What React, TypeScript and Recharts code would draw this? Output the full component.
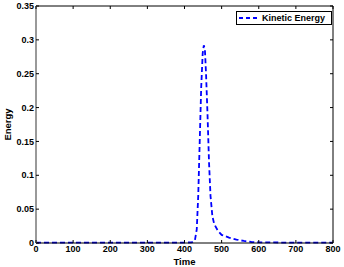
import React from "react";
import { LineChart, Line, XAxis, YAxis } from "recharts";

const times = [0, 100, 200, 300, 400, 420, 428, 433, 437, 441, 445, 449, 452, 455, 458, 462, 466, 470, 475, 480, 490, 500, 510, 520, 540, 560, 580, 600, 700, 800];
const energy = [0.0005, 0.0005, 0.0005, 0.0005, 0.0005, 0.001, 0.004, 0.02, 0.07, 0.15, 0.23, 0.28, 0.292, 0.285, 0.25, 0.19, 0.12, 0.07, 0.04, 0.028, 0.018, 0.012, 0.01, 0.008, 0.005, 0.003, 0.0015, 0.001, 0.0005, 0.0005];
const xTicks = [0, 100, 200, 300, 400, 500, 600, 700, 800];
const yTicks = [0, 0.05, 0.1, 0.15, 0.2, 0.25, 0.3, 0.35];
const seriesName = "Kinetic Energy";

const data = times.map((t, i) => ({ t, e: energy[i] }));

const FONT = "'Liberation Sans', Arial, Helvetica, sans-serif";
const TL = 3;

const BottomTick = (p: any) => (
  <g>
    <line x1={p.x} x2={p.x} y1={p.y - 3} y2={p.y - 3 - TL} stroke="#000" strokeWidth={1} />
    <text x={p.x} y={p.y} dy="0.71em" textAnchor="middle" fontSize={9} fontWeight="bold" fontFamily={FONT} fill="#000">
      {p.payload.value}
    </text>
  </g>
);
const TopTick = (p: any) => (
  <line x1={p.x} x2={p.x} y1={p.y} y2={p.y + TL} stroke="#000" strokeWidth={1} />
);
const LeftTick = (p: any) => (
  <g>
    <line x1={p.x + 2} x2={p.x + 2 + TL} y1={p.y} y2={p.y} stroke="#000" strokeWidth={1} />
    <text x={p.x} y={p.y} dy="0.355em" textAnchor="end" fontSize={9} fontWeight="bold" fontFamily={FONT} fill="#000">
      {p.payload.value}
    </text>
  </g>
);
const RightTick = (p: any) => (
  <line x1={p.x} x2={p.x - TL} y1={p.y} y2={p.y} stroke="#000" strokeWidth={1} />
);

const YLabel = (p: any) => {
  const vb = p.viewBox || { x: 0, y: 6, width: 36, height: 237 };
  const cx = vb.x + 8;
  const cy = vb.y + vb.height / 2;
  return (
    <text
      x={cx}
      y={cy}
      transform={`rotate(-90 ${cx} ${cy})`}
      textAnchor="middle"
      dy="0.355em"
      fontSize={9.5}
      fontWeight="bold"
      fontFamily={FONT}
      fill="#000"
    >
      Energy
    </text>
  );
};

const LegendBox = () => (
  <div
    style={{
      position: "absolute",
      left: 236,
      top: 11,
      width: 94,
      height: 12,
      border: "1px solid #000",
      background: "#fff",
      display: "flex",
      alignItems: "center",
      fontFamily: FONT,
      fontWeight: "bold",
      fontSize: 9,
      color: "#000",
      lineHeight: "12px",
    }}
  >
    <svg width={25} height={12} style={{ display: "block" }}>
      <line x1={2} x2={22} y1={6} y2={6} stroke="#0000ff" strokeWidth={1.8} strokeDasharray="4 3" />
    </svg>
    <span style={{ whiteSpace: "nowrap" }}>{seriesName}</span>
  </div>
);

export default function App() {
  return (
    <div style={{ position: "absolute", left: 0, top: 0, width: 344, height: 267, background: "#fff" }}>
      <LineChart width={344} height={267} data={data} margin={{ top: 5, right: 10, left: 0, bottom: 0 }}>
        <XAxis
          xAxisId="b"
          dataKey="t"
          type="number"
          domain={[0, 800]}
          ticks={xTicks}
          orientation="bottom"
          height={24}
          tickSize={0}
          tickMargin={3}
          tickLine={false}
          tick={BottomTick}
          interval={0}
          axisLine={{ stroke: "#000", strokeWidth: 1 }}
          label={{ value: "Time", position: "insideBottom", offset: 2, fontSize: 9.5, fontWeight: "bold", fontFamily: FONT, fill: "#000" }}
        />
        <XAxis
          xAxisId="t"
          dataKey="t"
          type="number"
          domain={[0, 800]}
          ticks={xTicks}
          orientation="top"
          height={1}
          tickSize={0}
          tickMargin={0}
          tickLine={false}
          tick={TopTick}
          interval={0}
          axisLine={{ stroke: "#000", strokeWidth: 1 }}
        />
        <YAxis
          yAxisId="l"
          type="number"
          domain={[0, 0.35]}
          ticks={yTicks}
          orientation="left"
          width={36}
          tickSize={0}
          tickMargin={2}
          tickLine={false}
          tick={LeftTick}
          interval={0}
          axisLine={{ stroke: "#999", strokeWidth: 2 }}
          label={<YLabel />}
        />
        <YAxis
          yAxisId="r"
          type="number"
          domain={[0, 0.35]}
          ticks={yTicks}
          orientation="right"
          width={1}
          tickSize={0}
          tickMargin={0}
          tickLine={false}
          tick={RightTick}
          interval={0}
          axisLine={{ stroke: "#000", strokeWidth: 1 }}
        />
        <Line
          xAxisId="t"
          yAxisId="r"
          dataKey="e"
          type="linear"
          stroke="none"
          dot={false}
          activeDot={false}
          isAnimationActive={false}
        />
        <Line
          xAxisId="b"
          yAxisId="l"
          dataKey="e"
          type="linear"
          stroke="#0000ff"
          strokeWidth={1.8}
          strokeDasharray="5 3"
          dot={false}
          isAnimationActive={false}
        />
      </LineChart>
      <LegendBox />
    </div>
  );
}
